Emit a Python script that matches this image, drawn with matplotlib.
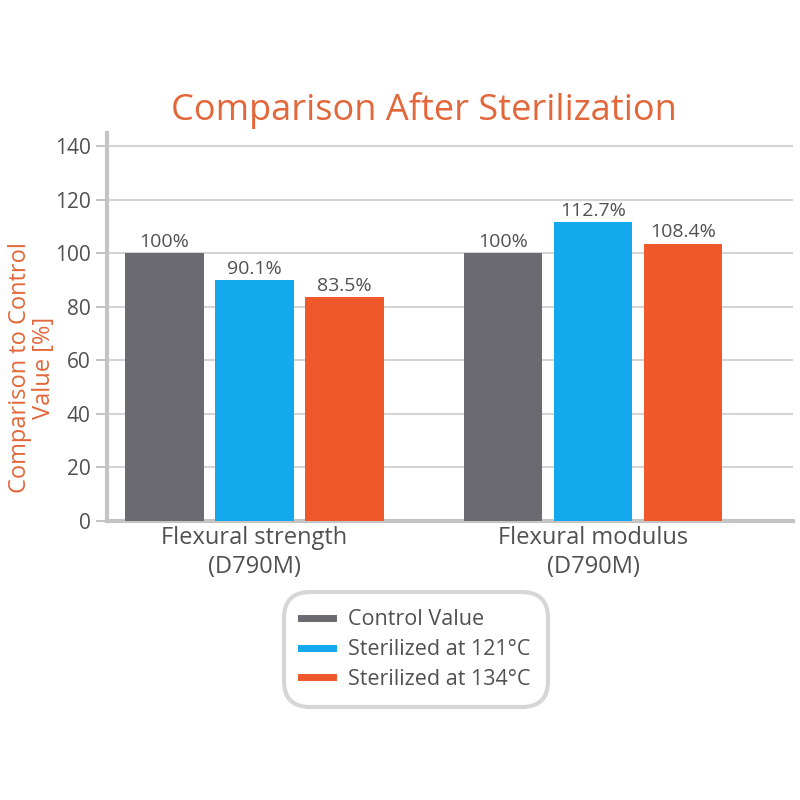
import numpy as np
import matplotlib.pyplot as plt
from matplotlib.lines import Line2D

# Data
categories = ['Flexural strength\n(D790M)', 'Flexural modulus\n(D790M)']
series_names = ['Control Value', 'Sterilized at 121°C', 'Sterilized at 134°C']
control = [100, 100]
steril_121 = [90.1, 111.6]
steril_134 = [83.5, 103.6]
labels_control = ['100%', '100%']
labels_121 = ['90.1%', '112.7%']
labels_134 = ['83.5%', '108.4%']
yticks = [0, 20, 40, 60, 80, 100, 120, 140]

colors = ['#6b6a70', '#14a9ec', '#ee582a']
orange_text = '#e2673a'
gray_text = '#505055'
axis_gray = '#c4c4c4'

plt.rcParams['font.family'] = ['Open Sans', 'DejaVu Sans']

fig = plt.figure(figsize=(8, 8), dpi=100)
ax = fig.add_axes([0.134, 0.349, 0.857, 0.485])

x = np.arange(len(categories))
width = 0.231
step = 0.266
series = [control, steril_121, steril_134]
labels = [labels_control, labels_121, labels_134]
for i, (vals, labs) in enumerate(zip(series, labels)):
    pos = x + (i - 1) * step
    ax.bar(pos, vals, width=width, color=colors[i], zorder=3)
    for p, v, t in zip(pos, vals, labs):
        ax.text(p, v + 0.8, t, ha='center', va='bottom', fontsize=14,
                color=gray_text, zorder=4)

ax.set_xlim(-0.435, 1.59)
ax.set_ylim(0, 145)
ax.set_yticks(yticks)
ax.set_xticks(x)
ax.set_xticklabels(categories, fontsize=17, color=gray_text, linespacing=1.25)
ax.tick_params(axis='x', length=0, pad=4)
ax.tick_params(axis='y', labelsize=15, labelcolor=gray_text, color=axis_gray,
               length=8, width=1.5, pad=4)
ax.yaxis.grid(True, color='#d4d4d4', linewidth=1.5, zorder=0)

for s in ['top', 'right']:
    ax.spines[s].set_visible(False)
for s in ['left', 'bottom']:
    ax.spines[s].set_color(axis_gray)
    ax.spines[s].set_linewidth(3)

fig.text(0.04, 0.54, 'Comparison to Control\nValue [%]', rotation=90,
         ha='center', va='center', multialignment='center',
         fontsize=17, color=orange_text, linespacing=1.0)

fig.text(0.53, 0.862, 'Comparison After Sterilization', ha='center', va='center',
         fontsize=26, color=orange_text)

handles = [Line2D([0], [0], color=c, linewidth=5) for c in colors]
leg = fig.legend(handles, series_names, loc='center', bbox_to_anchor=(0.52, 0.188),
                 fontsize=15.5, frameon=True, fancybox=True, handlelength=1.5,
                 handletextpad=0.7, labelspacing=0.4, borderpad=0.6,
                 labelcolor=gray_text)
frame = leg.get_frame()
frame.set_edgecolor('#cccccc')
frame.set_linewidth(3)
frame.set_boxstyle('round,pad=0.2,rounding_size=1.2')

fig.savefig('out.png', dpi=100, facecolor='white')
